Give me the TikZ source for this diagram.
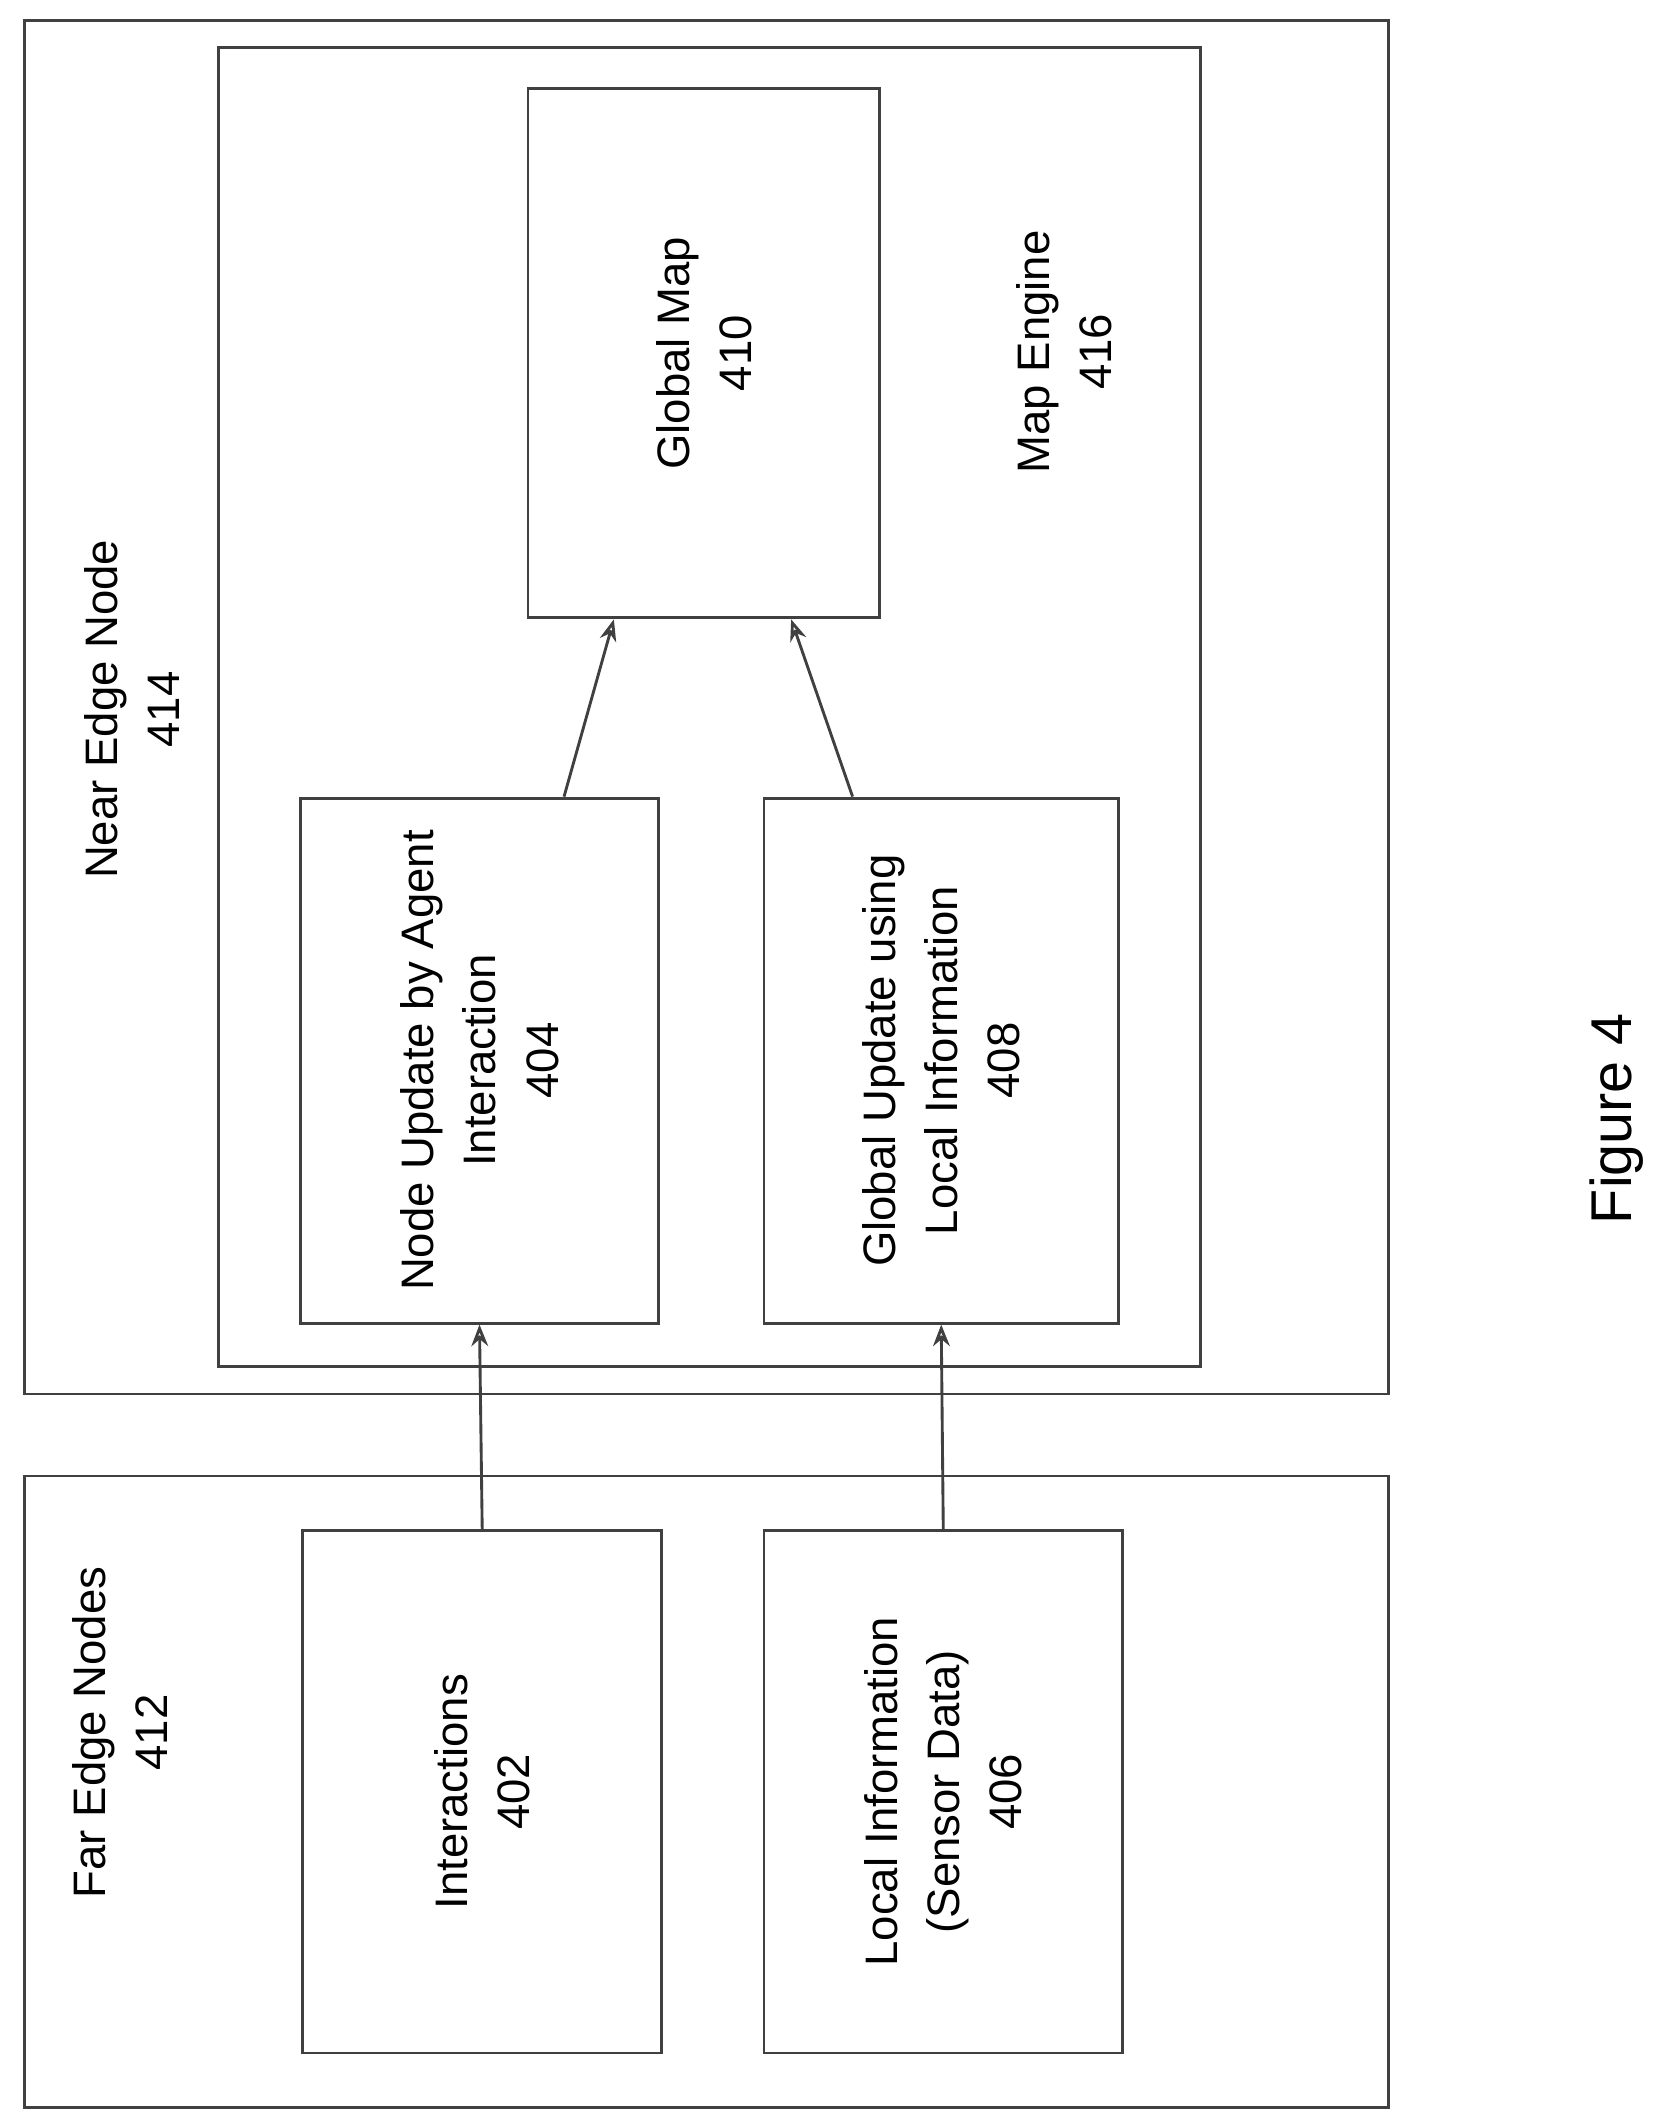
\documentclass[tikz,border=0pt]{standalone}
\usepackage{fontspec}
\setmainfont{Liberation Sans}
\usetikzlibrary{arrows.meta}
\tikzset{
  frame/.style={draw=black!75, line width=1.2pt, inner sep=0pt},
  box/.style={draw=black!75, line width=1.2pt, rotate=90, align=center, inner sep=0pt,
              font=\fontsize{19}{26}\selectfont},
  lbl/.style={rotate=90, align=center, font=\fontsize{19}{26}\selectfont},
  flow/.style={draw=black!75, line width=1.2pt, -{Stealth[length=9pt,width=7pt,open]}}
}
\begin{document}
\begin{tikzpicture}[x=0.02cm, y=-0.02cm]
  \useasboundingbox (0,0) rectangle (1220,1560);

  % containers
  \node[frame, minimum width=20cm, minimum height=9.26cm] (far) at (518,1313.5) {};
  \node[frame, minimum width=20cm, minimum height=20.14cm] (near) at (518,518.5) {};
  \node[frame, minimum width=14.4cm, minimum height=19.34cm] (engine) at (520,518.5) {};

  \node[lbl] (farlbl) at (88,1270) {Far Edge Nodes\\412};
  \node[lbl] (nearlbl) at (97,520) {Near Edge Node\\414};
  \node[lbl] (enginelbl) at (780,258) {Map Engine\\416};

  % blocks
  \node[box, minimum width=7.76cm, minimum height=5.16cm] (gmap) at (516,259) {Global Map\\410};
  \node[box, minimum width=7.7cm, minimum height=5.26cm] (nodeupd) at (351.5,777.5) {Node Update by Agent\\Interaction\\404};
  \node[box, minimum width=7.7cm, minimum height=5.2cm] (globupd) at (690,777.5) {Global Update using\\Local Information\\408};
  \node[box, minimum width=7.66cm, minimum height=5.26cm] (inter) at (353.5,1313.5) {Interactions\\402};
  \node[box, minimum width=7.66cm, minimum height=5.26cm] (local) at (691.5,1313.5) {Local Information\\(Sensor Data)\\406};

  \node[lbl, font=\fontsize{24}{30}\selectfont] (fig) at (1185,820) {Figure 4};

  % connectors
  \draw[flow] (inter.east) -- (nodeupd.west);
  \draw[flow] (local.east) -- (globupd.west);
  \draw[flow] ([xshift=1.24cm]nodeupd.east) -- ([xshift=-1.32cm]gmap.west);
  \draw[flow] ([xshift=-1.3cm]globupd.east) -- ([xshift=1.28cm]gmap.west);
\end{tikzpicture}
\end{document}
